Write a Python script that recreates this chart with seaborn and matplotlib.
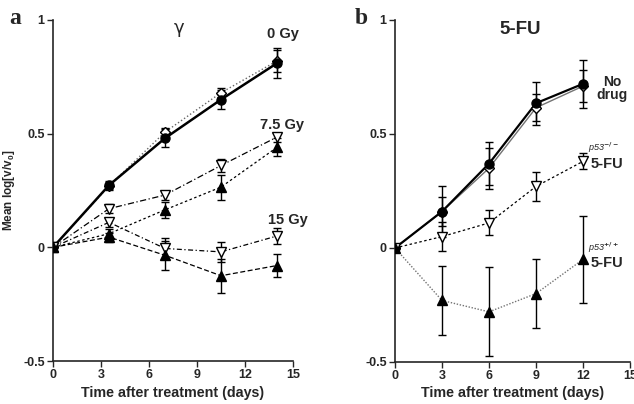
import matplotlib
matplotlib.use("Agg")
import matplotlib.pyplot as plt
import seaborn as sns
import pandas as pd

# ---------------- data ----------------
days_a = [0, 3.5, 7, 10.5, 14]
gy0_filled = [0, 0.273, 0.48, 0.65, 0.81]
gy0_filled_err = [0, 0.02, 0.04, 0.04, 0.065]
gy0_open = [0, 0.27, 0.507, 0.68, 0.82]
gy0_open_err = [0, 0.015, 0.02, 0.02, 0.05]
gy75_open = [0, 0.17, 0.23, 0.36, 0.485]
gy75_open_err = [0, 0.02, 0.02, 0.03, 0.02]
gy75_filled = [0, 0.06, 0.165, 0.265, 0.44]
gy75_filled_err = [0, 0.02, 0.035, 0.055, 0.04]
gy15_open = [0, 0.11, -0.005, -0.02, 0.05]
gy15_open_err = [0, 0.02, 0.045, 0.045, 0.035]
gy15_filled = [0, 0.045, -0.035, -0.125, -0.08]
gy15_filled_err = [0, 0.02, 0.065, 0.075, 0.05]

days_b = [0, 3, 6, 9, 12]
nodrug_filled = [0, 0.16, 0.37, 0.635, 0.72]
nodrug_filled_err = [0, 0.11, 0.095, 0.095, 0.105]
nodrug_open = [0, 0.16, 0.35, 0.615, 0.71]
nodrug_open_err = [0, 0.065, 0.09, 0.06, 0.07]
p53ko_5fu = [0, 0.05, 0.11, 0.27, 0.38]
p53ko_5fu_err = [0, 0.065, 0.055, 0.065, 0.035]
p53wt_5fu = [0, -0.23, -0.28, -0.2, -0.05]
p53wt_5fu_err = [0, 0.15, 0.195, 0.15, 0.19]

xticks = [0, 3, 6, 9, 12, 15]
yticks = [-0.5, 0, 0.5, 1]
ytick_labels = ["-0.5", "0", "0.5", "1"]

# ---------------- style ----------------
sns.set_style("ticks")
plt.rcParams['font.family'] = ['Liberation Sans', 'DejaVu Sans']
plt.rcParams['font.weight'] = 'bold'

fig = plt.figure(figsize=(6.34, 4.04), dpi=100)
ax_a = fig.add_axes([53/634, 43/404, 240/634, 341/404])
ax_b = fig.add_axes([395/634, 42/404, 235/634, 342/404])


def series(ax, x, y, err, marker, mfc, ls, lw, color, ms=6, lcolor=None, zorder=3):
    df = pd.DataFrame({"x": x, "y": y})
    sns.lineplot(data=df, x="x", y="y", ax=ax, color=lcolor or color,
                 linestyle=ls, linewidth=lw, marker=None, zorder=zorder,
                 legend=False, errorbar=None, sort=False)
    ax.errorbar(x, y, yerr=err, fmt="none", ecolor="black", elinewidth=1.0,
                capsize=3, capthick=1.0, zorder=zorder)
    ax.plot(x, y, linestyle="none", marker=marker, markersize=ms,
            markerfacecolor=mfc, markeredgecolor="black", markeredgewidth=1.0,
            zorder=zorder + 1)


# panel a
series(ax_a, days_a, gy0_open, gy0_open_err, "D", "white", ":", 1.0, "black", ms=5, lcolor="0.4")
series(ax_a, days_a, gy0_filled, gy0_filled_err, "o", "black", "-", 1.8, "black", ms=6.5)
series(ax_a, days_a, gy75_open, gy75_open_err, "v", "white", (0, (5, 2, 1, 2)), 0.9, "black", ms=7)
series(ax_a, days_a, gy75_filled, gy75_filled_err, "^", "black", (0, (2, 2)), 0.9, "black", ms=7)
series(ax_a, days_a, gy15_open, gy15_open_err, "v", "white", (0, (4, 2, 1, 2)), 0.9, "black", ms=7)
series(ax_a, days_a, gy15_filled, gy15_filled_err, "^", "black", (0, (4, 2)), 0.9, "black", ms=7)

# panel b
series(ax_b, days_b, nodrug_open, nodrug_open_err, "D", "white", "-", 1.0, "black", ms=5, lcolor="0.45")
series(ax_b, days_b, nodrug_filled, nodrug_filled_err, "o", "black", "-", 1.6, "black", ms=6.5)
series(ax_b, days_b, p53ko_5fu, p53ko_5fu_err, "v", "white", (0, (2, 2)), 0.9, "black", ms=7)
series(ax_b, days_b, p53wt_5fu, p53wt_5fu_err, "^", "black", (0, (1, 1.2)), 1.0, "black", ms=7, lcolor="0.45")

for ax in (ax_a, ax_b):
    ax.set_xlim(0, 15)
    ax.set_ylim(-0.5, 1)
    ax.set_xticks(xticks)
    ax.set_xticklabels([str(t) for t in xticks])
    ax.set_yticks(yticks)
    ax.set_yticklabels(ytick_labels)
    sns.despine(ax=ax)
    ax.spines["left"].set_linewidth(1.2)
    ax.spines["bottom"].set_linewidth(1.2)
    ax.tick_params(axis="both", labelsize=9, width=1.0, length=4, direction="out", pad=2)
    for lab in ax.get_xticklabels() + ax.get_yticklabels():
        lab.set_fontweight("bold")
    ax.set_xlabel("Time after treatment (days)", fontsize=10.3, fontweight="bold", labelpad=3)
    ax.set_ylabel("")
    ax.patch.set_alpha(0)
    for sp in ax.spines.values():
        sp.set_clip_on(False)

fig.text(9/634, 1 - 190/404, "Mean log[v/v$_\\mathregular{0}$]", fontsize=8.5,
         fontweight="bold", rotation=90, ha="center", va="center")

# annotations
fig.text(9/634, 1 - 18/404, "a", fontsize=17, fontweight="bold", family="Liberation Serif", va="center", ha="left")
fig.text(355/634, 1 - 18/404, "b", fontsize=17, fontweight="bold", family="Liberation Serif", va="center", ha="left")
ax_a.text(7.9, 0.965, "γ", fontsize=13, fontweight="normal", ha="center", va="center", family="DejaVu Sans")
ax_a.text(14.4, 0.94, "0 Gy", fontsize=10.5, fontweight="bold", ha="center", va="center")
ax_a.text(14.3, 0.54, "7.5 Gy", fontsize=10.5, fontweight="bold", ha="center", va="center")
ax_a.text(14.7, 0.12, "15 Gy", fontsize=10.5, fontweight="bold", ha="center", va="center")
ax_b.text(8.0, 0.96, "5-FU", fontsize=13.5, fontweight="bold", ha="center", va="center")
ax_b.text(13.85, 0.7, "No\ndrug", fontsize=10, fontweight="bold", ha="center", va="center", linespacing=0.95)
ax_b.text(13.3, 0.44, "p53$^{-/-}$", fontsize=6.5, fontstyle="italic", fontweight="normal", ha="center", va="center")
ax_b.text(13.5, 0.37, "5-FU", fontsize=10.5, fontweight="bold", ha="center", va="center")
ax_b.text(13.3, 0.0, "p53$^{+/+}$", fontsize=6.5, fontstyle="italic", fontweight="normal", ha="center", va="center")
ax_b.text(13.5, -0.065, "5-FU", fontsize=10.5, fontweight="bold", ha="center", va="center")

fig.savefig("out.png", dpi=100)
